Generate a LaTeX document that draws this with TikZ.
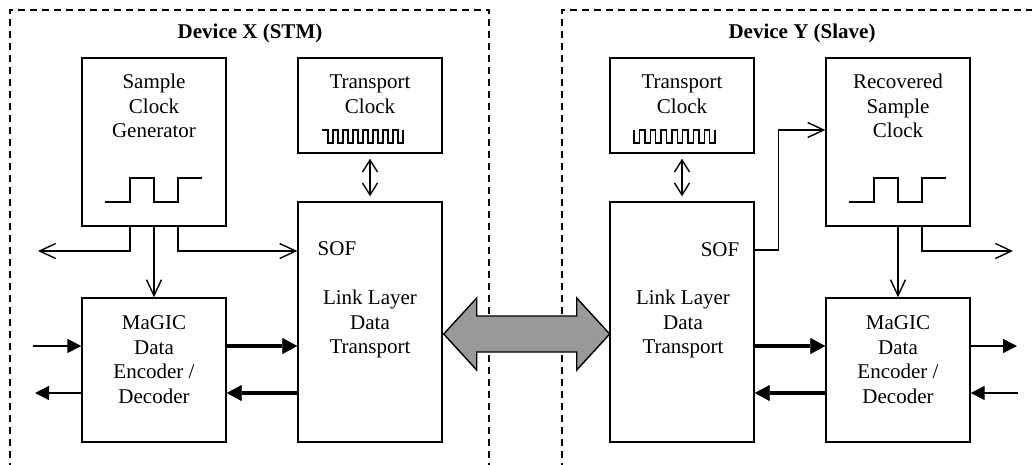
\documentclass[tikz,border=0pt]{standalone}
\usepackage{fontspec}
\setmainfont{Liberation Serif}
\usetikzlibrary{arrows.meta,calc}
\definecolor{arrowgray}{gray}{0.6}
\begin{document}
\begin{tikzpicture}[x=1pt,y=-1pt,
  box/.style={draw,line width=1.4pt,minimum width=144pt,inner sep=0pt},
  txt/.style={align=center,inner sep=0pt,font=\fontsize{21}{24.5}\selectfont},
  heading/.style={inner sep=0pt,font=\fontsize{21}{24.5}\selectfont\bfseries},
  devframe/.style={line width=1.4pt,dash pattern=on 7pt off 5pt},
  wave/.style={line width=1.4pt,line join=miter},
  openarr/.style={line width=1.4pt,-{Straight Barb[length=16pt,width=15pt]}},
  dblarr/.style={line width=1.4pt,{Straight Barb[length=12pt,width=15pt]}-{Straight Barb[length=12pt,width=15pt]},
    shorten <=5pt,shorten >=5pt},
  sigarr/.style={line width=1.4pt,-{Triangle[length=14pt,width=14pt]}},
  busarr/.style={line width=4pt,-{Triangle[length=15pt,width=16pt,line width=0.5pt]}},
]
\clip (0,0) rectangle (1032,464);

% device frames (open at the bottom)
\draw[devframe] (10,470) -- (10,10) -- (489,10) -- (489,470);
\draw[devframe] (562,470) -- (562,10) -- (1040,10);
\node[heading] (titleX) at (250,33) {Device X (STM)};
\node[heading] (titleY) at (802,33) {Device Y (Slave)};

% ---------- Device X ----------
\node[box,minimum height=168pt] (scg) at (154,142) {};
\node[box,minimum height=95pt]  (tc1) at (370,105.5) {};
\node[box,minimum height=240pt] (ll1) at (370,322) {};
\node[box,minimum height=144pt] (mg1) at (154,370) {};

\node[txt] (scgt) at (154,106) {Sample\\Clock\\Generator};
\node[txt] (tc1t) at (370,94) {Transport\\Clock};
\node[txt] (sof1) at (337,249) {SOF};
\node[txt] (ll1t) at (370,324) {Link Layer\\Data\\Transport};
\node[txt] (mg1t) at (154,359.5) {MaGIC\\Data\\Encoder /\\Decoder};

% sample clock waveform
\draw[wave] (105,202) -- (130,202) -- (130,178) -- (154,178) -- (154,202)
  -- (178,202) -- (178,178) -- (202,178);
% transport clock waveform
\draw[wave] (322,130) -- (328,130)
  \foreach \i in {1,...,7}{ -- ++(0,13) -- ++(5,0) -- ++(0,-13) -- ++(5,0)}
  -- ++(0,13) -- ++(5,0) -- ++(0,-13);

% ---------- Device Y ----------
\node[box,minimum height=95pt]  (tc2) at (682,105.5) {};
\node[box,minimum height=240pt] (ll2) at (682,322) {};
\node[box,minimum height=168pt] (rsc) at (898,142) {};
\node[box,minimum height=144pt] (mg2) at (898,370) {};

\node[txt] (tc2t) at (682,94) {Transport\\Clock};
\node[txt] (sof2) at (720,250) {SOF};
\node[txt] (ll2t) at (683,324) {Link Layer\\Data\\Transport};
\node[txt] (rsct) at (898,106) {Recovered\\Sample\\Clock};
\node[txt] (mg2t) at (898,359.5) {MaGIC\\Data\\Encoder /\\Decoder};

% recovered clock waveform
\draw[wave] (849,202) -- (874,202) -- (874,178) -- (898,178) -- (898,202)
  -- (922,202) -- (922,178) -- (946,178);
% transport clock waveform
\draw[wave] (634,130) -- ++(0,13) -- ++(5.4,0) -- ++(0,-13)
  \foreach \i in {1,...,7}{ -- ++(5.4,0) -- ++(0,13) -- ++(5.4,0) -- ++(0,-13)};

% ---------- reference rows ----------
\coordinate (branchY) at (0,251);
\coordinate (sofY) at (0,250);
\coordinate (clkY) at (0,130);
\coordinate (midY) at (0,334);
\coordinate (lout) at (38,251);
\coordinate (rout) at (1013,251);
\coordinate (in1) at (33,346);
\coordinate (out1) at (35,393);
\coordinate (out2) at (1017,346);
\coordinate (in2) at (1018,393);

% ---------- Device X connectors ----------
\draw[openarr] ([xshift=-24pt]scg.south) |- (lout);
\draw[openarr] (scg.south) -- (mg1.north);
\draw[openarr] ([xshift=24pt]scg.south) |- (ll1.west |- branchY);
\draw[dblarr] (tc1.south) -- (ll1.north);
\draw[sigarr] (in1) -- (mg1.west |- in1);
\draw[sigarr] (mg1.west |- out1) -- (out1);
\draw[busarr] (mg1.east |- in1) -- (ll1.west |- in1);
\draw[busarr] (ll1.west |- out1) -- (mg1.east |- out1);

% ---------- Device Y connectors ----------
\draw[dblarr] (tc2.south) -- (ll2.north);
\draw[openarr] (ll2.east |- sofY) -- ++(24,0) |- (rsc.west |- clkY);
\draw[openarr] (rsc.south) -- (mg2.north);
\draw[openarr] ([xshift=24pt]rsc.south) |- (rout);
\draw[busarr] (ll2.east |- in1) -- (mg2.west |- in1);
\draw[busarr] (mg2.west |- out1) -- (ll2.east |- out1);
\draw[sigarr] (mg2.east |- out2) -- (out2);
\draw[sigarr] (in2) -- (mg2.east |- in2);

% ---------- link between the devices ----------
\draw[line width=1.4pt,fill=arrowgray,line join=miter]
  ([xshift=1pt]ll1.east |- midY) -- ++(33,-36) -- ++(0,18) -- ++(100,0)
  -- ++(0,-18) -- ++(33,36) -- ++(-33,36) -- ++(0,-18) -- ++(-100,0)
  -- ++(0,18) -- cycle;
\end{tikzpicture}
\end{document}
